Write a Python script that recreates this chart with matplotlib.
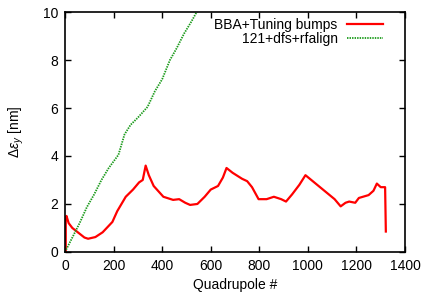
import matplotlib
matplotlib.use("Agg")
import matplotlib.pyplot as plt
from matplotlib.ticker import MultipleLocator

plt.rcParams['font.family'] = ['Liberation Sans', 'DejaVu Sans']
plt.rcParams['mathtext.fontset'] = 'custom'
plt.rcParams['mathtext.rm'] = 'Liberation Sans'
plt.rcParams['mathtext.it'] = 'Liberation Sans:italic'

# BBA + tuning bumps
bba_x = [3, 3, 6, 15, 30, 55, 80, 95, 125, 155, 195, 215, 250, 280, 305, 320, 332,
         345, 365, 405, 445, 470, 495, 515, 545, 575, 600, 630, 650, 665, 690, 729,
         750, 770, 797, 830, 860, 890, 910, 935, 965, 990, 1020, 1050, 1080, 1110,
         1135, 1155, 1170, 1195, 1210, 1250, 1270, 1284, 1300, 1318, 1321]
bba_y = [0, 1.45, 1.5, 1.2, 1.0, 0.8, 0.6, 0.55, 0.62, 0.82, 1.25, 1.7, 2.3, 2.6,
         2.9, 3.0, 3.6, 3.2, 2.75, 2.3, 2.17, 2.2, 2.05, 1.96, 2.0, 2.3, 2.6, 2.75,
         3.1, 3.5, 3.3, 3.05, 2.95, 2.7, 2.2, 2.2, 2.3, 2.2, 2.1, 2.4, 2.8, 3.2, 2.95,
         2.7, 2.45, 2.2, 1.9, 2.05, 2.1, 2.05, 2.25, 2.37, 2.55, 2.85, 2.7, 2.7, 0.85]

# 121 + dfs + rfalign
dfs_x = [0, 30, 60, 90, 120, 150, 180, 220, 245, 270, 300, 340, 370, 400, 432,
         460, 490, 520, 542, 560]
dfs_y = [0, 0.6, 1.2, 1.87, 2.4, 3.0, 3.5, 4.05, 4.9, 5.3, 5.6, 6.05, 6.7, 7.2,
         8.0, 8.5, 9.1, 9.6, 10.0, 10.3]

fig = plt.figure(figsize=(4.25, 2.95), dpi=100)
ax = fig.add_axes([0.153, 0.146, 0.8, 0.813])

ax.plot(bba_x, bba_y, color='#ff0000', linewidth=1.6, label='BBA+Tuning bumps')
ax.plot(dfs_x, dfs_y, color='#1a9a1a', linewidth=1.3, linestyle=(0, (0.8, 0.6)),
        label='121+dfs+rfalign')

ax.set_xlim(0, 1400)
ax.set_ylim(0, 10)
ax.xaxis.set_major_locator(MultipleLocator(200))
ax.yaxis.set_major_locator(MultipleLocator(2))
ax.tick_params(which='major', direction='in', top=True, right=True,
               length=4, width=1, labelsize=10, pad=5)
for s in ax.spines.values():
    s.set_linewidth(1.2)

ax.set_xlabel('Quadrupole #', fontsize=10, labelpad=4)
ax.set_ylabel(r'$\Delta\varepsilon_y$ [nm]', fontsize=10, labelpad=12)

ax.legend(loc='upper right', bbox_to_anchor=(0.955, 1.0), frameon=False,
          markerfirst=False, fontsize=10, handlelength=2.6, handletextpad=0.7,
          labelspacing=0.0, borderaxespad=0.2, borderpad=0.25)

fig.savefig('out.png', dpi=100)
